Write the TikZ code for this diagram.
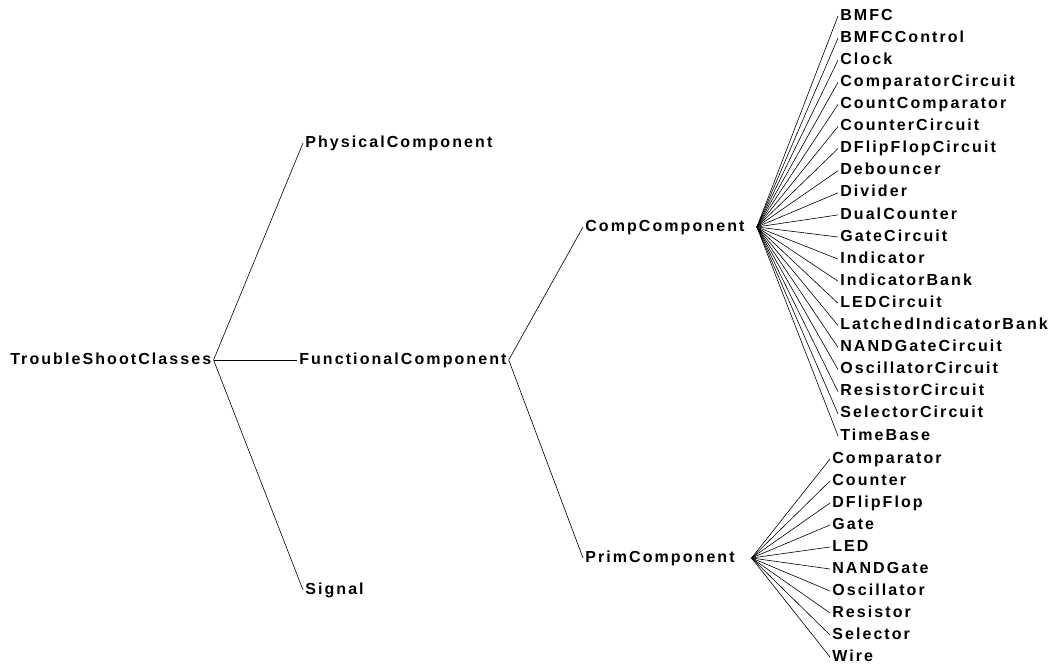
\documentclass[tikz,border=0pt]{standalone}
\usepackage{fontspec}
\newfontfamily\clsfont{Liberation Sans}[LetterSpace=13]
\tikzset{
  cls/.style={anchor=west,inner sep=1.5pt,text height=8.6pt,text depth=2.4pt,
    font=\clsfont\bfseries\fontsize{12}{14}\selectfont},
  link/.style={line width=0.45pt}
}
\begin{document}
\begin{tikzpicture}[x=0.75pt,y=-0.75pt]
\useasboundingbox (0,0) rectangle (1053,666);
\node[cls] at (8,360) (root) {TroubleShootClasses};
\node[cls] at (303,143) (phys) {PhysicalComponent};
\node[cls] at (297,360) (func) {FunctionalComponent};
\node[cls] at (303,590) (sig) {Signal};
\draw[link] (root.east) -- (phys.west);
\draw[link] (root.east) -- (func.west);
\draw[link] (root.east) -- (sig.west);
\node[cls,text width=127pt,align=left] at (583,227) (comp) {CompComponent};
\node[cls,text width=123pt,align=left] at (583,558) (prim) {PrimComponent};
\draw[link] (func.east) -- (comp.west);
\draw[link] (func.east) -- (prim.west);
\foreach \leaf [count=\i from 0] in {BMFC,BMFCControl,Clock,ComparatorCircuit,CountComparator,
  CounterCircuit,DFlipFlopCircuit,Debouncer,Divider,DualCounter,GateCircuit,Indicator,
  IndicatorBank,LEDCircuit,LatchedIndicatorBank,NANDGateCircuit,OscillatorCircuit,
  ResistorCircuit,SelectorCircuit,TimeBase}{
  \node[cls] at (838,{16+22.1*\i}) (cc\i) {\leaf};
  \draw[link] (comp.east) -- (cc\i.west);
}
\foreach \leaf [count=\i from 0] in {Comparator,Counter,DFlipFlop,Gate,LED,NANDGate,
  Oscillator,Resistor,Selector,Wire}{
  \node[cls] at (830,{459+22*\i}) (pc\i) {\leaf};
  \draw[link] (prim.east) -- (pc\i.west);
}
\end{tikzpicture}
\end{document}
